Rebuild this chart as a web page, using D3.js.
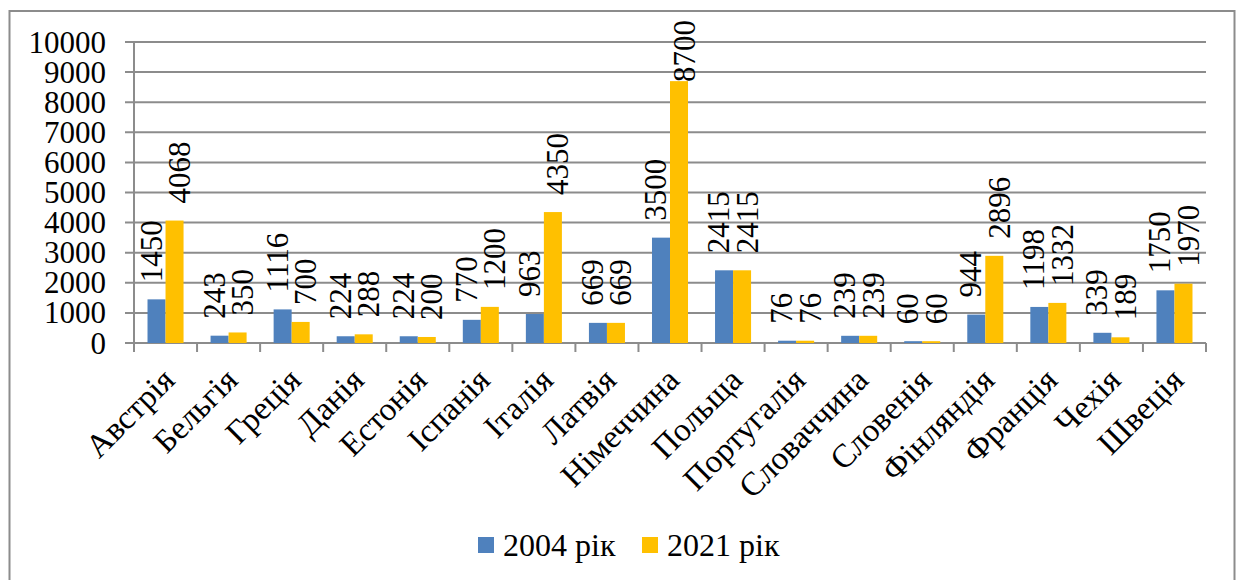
<!DOCTYPE html>
<html>
<head>
<meta charset="utf-8">
<script src="https://cdn.jsdelivr.net/npm/d3@7"></script>
<style>
  body { margin: 0; background: #fff; }
  svg text { font-family: "Liberation Serif", "Times New Roman", serif; fill: #000; }
</style>
</head>
<body>
<script>
const countries = ["Австрія", "Бельгія", "Греція", "Данія", "Естонія", "Іспанія", "Італія", "Латвія",
  "Німеччина", "Польща", "Португалія", "Словаччина", "Словенія", "Фінляндія", "Франція", "Чехія", "Швеція"];
const values2004 = [1450, 243, 1116, 224, 224, 770, 963, 669, 3500, 2415, 76, 239, 60, 944, 1198, 339, 1750];
const values2021 = [4068, 350, 700, 288, 200, 1200, 4350, 669, 8700, 2415, 76, 239, 60, 2896, 1332, 189, 1970];
const seriesNames = ["2004 рік", "2021 рік"];
const yTicks = [0, 1000, 2000, 3000, 4000, 5000, 6000, 7000, 8000, 9000, 10000];

const colors = ["#4F81BD", "#FFC000"];
const W = 1237, H = 580;
const fs = 31;

const svg = d3.select("body").append("svg").attr("width", W).attr("height", H);

// outer chart border
svg.append("rect")
  .attr("x", 9.5).attr("y", 11).attr("width", 1225).attr("height", 600)
  .attr("fill", "none").attr("stroke", "#8c8c8c").attr("stroke-width", 2);

const x = d3.scaleBand().domain(countries).range([134, 1206]);
const xs = d3.scaleBand().domain([0, 1]).range([0, x.bandwidth()]).paddingOuter(0.75);
const y = d3.scaleLinear().domain([0, 10000]).range([343, 42]);

// gridlines + y labels
const g = svg.append("g");
g.selectAll("line.grid").data(yTicks).enter().append("line")
  .attr("x1", 125).attr("x2", 1206)
  .attr("y1", d => y(d)).attr("y2", d => y(d))
  .attr("stroke", "#8c8c8c").attr("stroke-width", 2);

g.selectAll("text.ytick").data(yTicks).enter().append("text")
  .attr("x", 106).attr("y", d => y(d)).attr("dy", "0.34em")
  .attr("text-anchor", "end").attr("font-size", fs)
  .text(d => d);

// y axis line
g.append("line").attr("x1", 134).attr("x2", 134).attr("y1", y(10000)).attr("y2", 352)
  .attr("stroke", "#8c8c8c").attr("stroke-width", 2);

// category tick marks
const bounds = countries.map(c => x(c)).concat([1206]);
g.selectAll("line.xtick").data(bounds).enter().append("line")
  .attr("x1", d => d).attr("x2", d => d).attr("y1", 343).attr("y2", 352)
  .attr("stroke", "#8c8c8c").attr("stroke-width", 2);

// bars
const series = [values2004, values2021];
series.forEach((vals, si) => {
  svg.append("g").selectAll("rect").data(vals).enter().append("rect")
    .attr("x", (d, i) => x(countries[i]) + xs(si))
    .attr("width", xs.bandwidth())
    .attr("y", d => y(d))
    .attr("height", d => y(0) - y(d))
    .attr("fill", colors[si]);
});

// value labels (rotated)
const labelShift = [5, 15.5];
series.forEach((vals, si) => {
  svg.append("g").selectAll("text").data(vals).enter().append("text")
    .attr("font-size", fs)
    .attr("text-anchor", "start")
    .text(d => d)
    .each(function(d, i) {
      const len = this.getComputedTextLength();
      const cx = x(countries[i]) + xs(si) + xs.bandwidth() / 2 + labelShift[si];
      let ly = y(d) - 17;
      if (ly - len < 20) ly = 20 + len;
      d3.select(this).attr("transform", `translate(${cx},${ly}) rotate(-90)`);
    });
});

// category labels
svg.append("g").selectAll("text").data(countries).enter().append("text")
  .attr("font-size", 33)
  .attr("text-anchor", "end")
  .attr("transform", d => `translate(${x(d) + x.bandwidth() / 2 + 11},382) rotate(-45)`)
  .text(d => d);

// legend
const legendX = [478, 642];
seriesNames.forEach((name, i) => {
  svg.append("rect").attr("x", legendX[i]).attr("y", 537).attr("width", 16).attr("height", 16)
    .attr("fill", colors[i]);
  svg.append("text").attr("x", legendX[i] + 25).attr("y", 556)
    .attr("font-size", 32).text(name);
});
</script>
</body>
</html>
